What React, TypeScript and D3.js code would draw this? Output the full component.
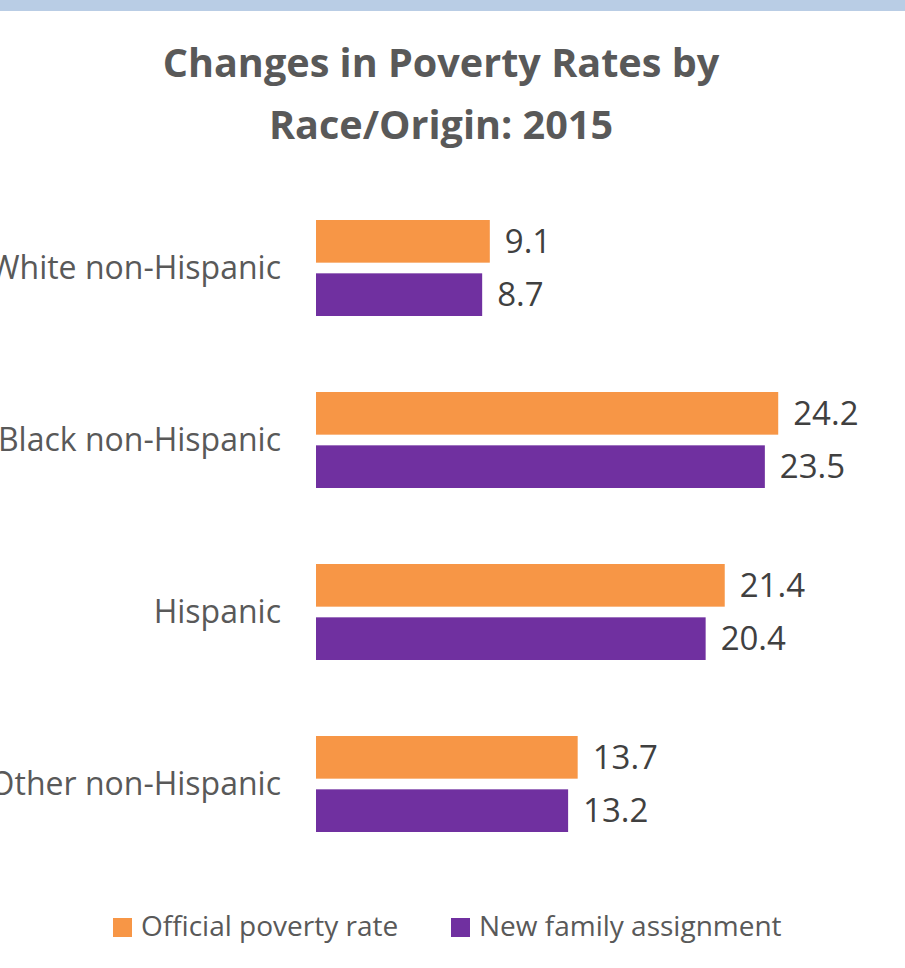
import React from "react";
import * as d3 from "d3";

const categories = ["White non-Hispanic", "Black non-Hispanic", "Hispanic", "Other non-Hispanic"];
const seriesNames = ["Official poverty rate", "New family assignment"];
const officialRate = [9.1, 24.2, 21.4, 13.7];
const newFamily = [8.7, 23.5, 20.4, 13.2];
const seriesColors = ["#F79646", "#7030A0"];
const titleLines = ["Changes in Poverty Rates by", "Race/Origin: 2015"];

const W = 905;
const H = 968;
const FONT = "'Open Sans', 'DejaVu Sans', sans-serif";

export default function App() {
  const values = [officialRate, newFamily];
  const x = d3.scaleLinear().domain([0, 25]).range([316, 793.5]);
  const y0 = d3.scaleBand<string>().domain(categories).range([182, 870]).padding(0);
  const groupH = 96;
  const y1 = d3
    .scaleBand<string>()
    .domain(seriesNames)
    .range([0, groupH])
    .paddingInner(0.2)
    .paddingOuter(0);
  const fmt = d3.format(".1f");

  return (
    <div style={{ position: "absolute", left: 0, top: 0 }}>
      <svg width={W} height={H} style={{ display: "block", background: "#fff" }}>
        <rect x={0} y={0} width={W} height={11} fill="#B9CDE5" />
        <g fontFamily={FONT} fontWeight={700} fill="#595959" textAnchor="middle">
          <text x={441} y={77} fontSize={39.6}>{titleLines[0]}</text>
          <text x={441} y={139} fontSize={39.6}>{titleLines[1]}</text>
        </g>
        {categories.map((c, i) => {
          const gy = (y0(c) as number) + y0.bandwidth() / 2 - groupH / 2;
          return (
            <g key={c}>
              <text
                x={281}
                y={(y0(c) as number) + y0.bandwidth() / 2}
                dy="0.35em"
                textAnchor="end"
                fontFamily={FONT}
                fontSize={32}
                fill="#595959"
              >
                {c}
              </text>
              {seriesNames.map((s, j) => {
                const v = values[j][i];
                const by = gy + (y1(s) as number);
                return (
                  <g key={s}>
                    <rect
                      x={x(0)}
                      y={by}
                      width={x(v) - x(0)}
                      height={y1.bandwidth()}
                      fill={seriesColors[j]}
                    />
                    <text
                      x={x(v) + 15}
                      y={by + y1.bandwidth() / 2}
                      dy="0.35em"
                      fontFamily={FONT}
                      fontSize={33}
                      fill="#404040"
                    >
                      {fmt(v)}
                    </text>
                  </g>
                );
              })}
            </g>
          );
        })}
        <g fontFamily={FONT} fontSize={28} fill="#595959">
          {seriesNames.map((s, j) => {
            const lx = j === 0 ? 113 : 451;
            return (
              <g key={s}>
                <rect x={lx} y={918} width={19} height={19} fill={seriesColors[j]} />
                <text x={lx + 28} y={936}>{s}</text>
              </g>
            );
          })}
        </g>
      </svg>
    </div>
  );
}
